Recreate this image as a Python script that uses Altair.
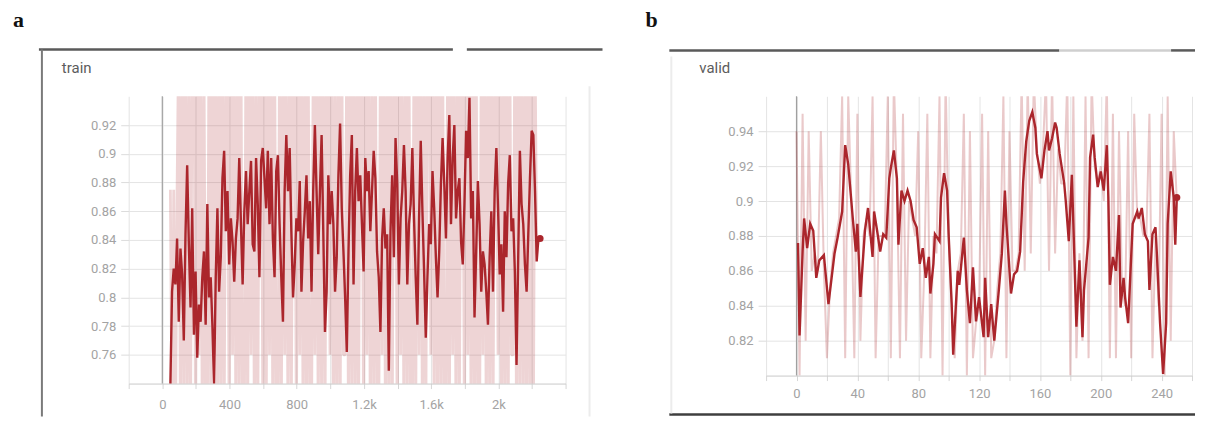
import altair as alt
import pandas as pd

# ---------------- data ----------------
# panel a: "train" -- one reading every 10 steps starting at step 48
train_start = 48
train_stride = 10
train_smoothed = [
    0.739, 0.804, 0.820, 0.809, 0.841, 0.783, 0.834, 0.816, 0.770, 0.844,
    0.892, 0.837, 0.793, 0.862, 0.774, 0.818, 0.758, 0.795, 0.783, 0.814,
    0.832, 0.781, 0.865, 0.800, 0.814, 0.781, 0.739, 0.814, 0.862, 0.804,
    0.828, 0.883, 0.902, 0.846, 0.874, 0.823, 0.855, 0.839, 0.811, 0.841,
    0.855, 0.897, 0.851, 0.809, 0.860, 0.888, 0.851, 0.874, 0.895, 0.837,
    0.832, 0.897, 0.865, 0.814, 0.895, 0.904, 0.883, 0.862, 0.902, 0.851,
    0.897, 0.841, 0.814, 0.888, 0.899, 0.851, 0.814, 0.783, 0.874, 0.913,
    0.874, 0.904, 0.846, 0.800, 0.823, 0.855, 0.846, 0.881, 0.804, 0.839,
    0.860, 0.885, 0.841, 0.867, 0.804, 0.874, 0.920, 0.874, 0.830, 0.874,
    0.913, 0.846, 0.776, 0.804, 0.885, 0.851, 0.874, 0.851, 0.804, 0.828,
    0.885, 0.921, 0.862, 0.832, 0.800, 0.762, 0.832, 0.885, 0.913,
    0.809, 0.874, 0.904, 0.867, 0.885, 0.851, 0.818, 0.897, 0.874, 0.888,
    0.846, 0.874, 0.902, 0.883, 0.832, 0.814, 0.776, 0.841, 0.862, 0.834,
    0.844, 0.749, 0.846, 0.885, 0.828, 0.911, 0.879, 0.809, 0.855, 0.874,
    0.906, 0.874, 0.809, 0.851, 0.865, 0.904, 0.855, 0.814, 0.781, 0.855,
    0.909, 0.860, 0.818, 0.772, 0.814, 0.851, 0.837, 0.888, 0.862, 0.828,
    0.800, 0.832, 0.879, 0.911, 0.879, 0.841, 0.897, 0.927, 0.851, 0.897,
    0.920, 0.855, 0.874, 0.883, 0.839, 0.823, 0.865, 0.916, 0.897, 0.939,
    0.855, 0.874, 0.786, 0.832, 0.881, 0.851, 0.804, 0.832, 0.823, 0.804,
    0.781, 0.828, 0.860, 0.804, 0.874, 0.904, 0.862, 0.816, 0.837, 0.790,
    0.860, 0.828, 0.879, 0.899, 0.846, 0.855, 0.818, 0.753, 0.828, 0.902,
    0.865, 0.851, 0.823, 0.804, 0.844, 0.883, 0.916, 0.913, 0.874, 0.825,
    0.841, 0.841,
]
train_raw = [
    0.875, 0.70, 0.875, 0.70, 0.875, 0.99, 0.70, 0.98, 0.72, 0.99,
    0.70, 0.97, 0.71, 0.99, 0.99, 0.70, 0.98, 0.76, 0.99, 0.70,
    0.97, 0.70, 0.70, 0.99, 0.72, 0.98, 0.76, 0.99, 0.70, 0.98,
    0.71, 0.99, 0.70, 0.97, 0.97, 0.70, 0.99, 0.76, 0.98, 0.70,
    0.99, 0.72, 0.98, 0.70, 0.70, 0.99, 0.71, 0.98, 0.76, 0.99,
    0.70, 0.97, 0.70, 0.99, 0.99, 0.72, 0.98, 0.70, 0.99, 0.76,
    0.98, 0.70, 0.99, 0.71, 0.71, 0.98, 0.70, 0.99, 0.76, 0.97,
    0.70, 0.99, 0.72, 0.98, 0.98, 0.70, 0.99, 0.76, 0.99, 0.70,
    0.98, 0.71, 0.99, 0.70, 0.70, 0.97, 0.76, 0.99, 0.70, 0.98,
    0.72, 0.99, 0.70, 0.98, 0.98, 0.76, 0.99, 0.70, 0.97, 0.71,
    0.99, 0.70, 0.98, 0.76, 0.76, 0.99, 0.70, 0.98, 0.72, 0.99,
    0.70, 0.98, 0.71, 0.99, 0.99, 0.70, 0.98, 0.76, 0.99, 0.70,
    0.97, 0.72, 0.99, 0.70, 0.70, 0.98, 0.76, 0.99, 0.70, 0.98,
    0.71, 0.99, 0.70, 0.98, 0.98, 0.70, 0.99, 0.76, 0.97, 0.70,
    0.99, 0.72, 0.98, 0.70, 0.70, 0.99, 0.71, 0.98, 0.76, 0.99,
    0.70, 0.98, 0.70, 0.99, 0.99, 0.76, 0.98, 0.70, 0.99, 0.72,
    0.98, 0.70, 0.99, 0.71, 0.71, 0.98, 0.70, 0.99, 0.76, 0.97,
    0.70, 0.99, 0.72, 0.98, 0.98, 0.70, 0.99, 0.76, 0.98, 0.70,
    0.99, 0.71, 0.98, 0.70, 0.70, 0.97, 0.76, 0.99, 0.70, 0.98,
    0.72, 0.99, 0.70, 0.98, 0.98, 0.76, 0.99, 0.70, 0.98, 0.71,
    0.99, 0.70, 0.98, 0.76, 0.76, 0.99, 0.70, 0.98, 0.72, 0.99,
    0.70, 0.98, 0.71, 0.99, 0.70, 0.99, 0.70, 0.98, 0.83, 0.84,
    0.84,
]

# panel b: "valid"
valid_steps = [
    1, 2, 4, 5, 7, 9, 11, 13, 15, 18,
    21, 25, 27, 30, 32, 34, 37, 39, 40, 42,
    43, 45, 47, 50, 51, 53, 55, 57, 59, 61,
    62, 64, 66, 67, 69, 71, 73, 75, 77, 79,
    81, 83, 85, 87, 88, 90, 91, 94, 95, 97,
    99, 100, 102, 103, 106, 107, 110, 112, 114, 116,
    118, 120, 123, 124, 126, 128, 130, 133, 135, 137,
    138, 141, 143, 145, 147, 149, 151, 153, 155, 157,
    158, 161, 163, 165, 166, 168, 170, 171, 173, 176,
    177, 179, 181, 182, 184, 186, 188, 189, 192, 193,
    195, 196, 198, 200, 202, 204, 205, 206, 208, 210,
    212, 213, 215, 216, 218, 220, 221, 224, 225, 227,
    229, 231, 232, 234, 236, 237, 239, 241, 243, 244,
    246, 248, 249, 250,
]
valid_smoothed = [
    0.876, 0.823, 0.871, 0.890, 0.873, 0.887, 0.883, 0.856, 0.866, 0.869,
    0.841, 0.870, 0.879, 0.894, 0.932, 0.921, 0.890, 0.871, 0.887, 0.845,
    0.858, 0.883, 0.896, 0.868, 0.894, 0.883, 0.871, 0.881, 0.879, 0.913,
    0.919, 0.929, 0.913, 0.875, 0.906, 0.900, 0.906, 0.900, 0.889, 0.885,
    0.864, 0.873, 0.856, 0.868, 0.847, 0.864, 0.881, 0.877, 0.902, 0.916,
    0.906, 0.881, 0.841, 0.812, 0.860, 0.852, 0.879, 0.849, 0.830, 0.862,
    0.831, 0.845, 0.822, 0.856, 0.822, 0.841, 0.820, 0.849, 0.870, 0.906,
    0.887, 0.847, 0.858, 0.860, 0.871, 0.911, 0.934, 0.946, 0.951, 0.942,
    0.927, 0.913, 0.929, 0.940, 0.929, 0.936, 0.945, 0.942, 0.927, 0.910,
    0.900, 0.877, 0.915, 0.887, 0.828, 0.866, 0.822, 0.849, 0.879, 0.925,
    0.938, 0.925, 0.908, 0.917, 0.906, 0.932, 0.902, 0.852, 0.868, 0.860,
    0.892, 0.839, 0.856, 0.845, 0.830, 0.868, 0.887, 0.894, 0.890, 0.896,
    0.881, 0.877, 0.849, 0.881, 0.885, 0.868, 0.830, 0.801, 0.830, 0.887,
    0.917, 0.902, 0.875, 0.902,
]
valid_raw_start = 0
valid_raw_stride = 2
valid_raw = [
    0.94, 0.80, 0.95, 0.82, 0.94, 0.86, 0.87, 0.86, 0.94, 0.86,
    0.81, 0.85, 0.87, 0.88, 0.89, 0.96, 0.81, 0.96, 0.90, 0.81,
    0.95, 0.82, 0.88, 0.89, 0.88, 0.96, 0.81, 0.88, 0.88, 0.88,
    0.96, 0.81, 0.97, 0.91, 0.81, 0.95, 0.82, 0.90, 0.89, 0.88,
    0.94, 0.81, 0.86, 0.95, 0.81, 0.88, 0.87, 0.96, 0.80, 0.97,
    0.88, 0.84, 0.81, 0.86, 0.87, 0.95, 0.80, 0.94, 0.81, 0.83,
    0.84, 0.95, 0.80, 0.94, 0.81, 0.82, 0.85, 0.87, 0.96, 0.81,
    0.94, 0.86, 0.86, 0.87, 0.97, 0.86, 0.97, 0.87, 0.97, 0.93,
    0.91, 0.93, 0.97, 0.86, 0.97, 0.87, 0.93, 0.91, 0.91, 0.97,
    0.80, 0.96, 0.81, 0.87, 0.82, 0.96, 0.81, 0.97, 0.92, 0.91,
    0.92, 0.90, 0.97, 0.81, 0.95, 0.81, 0.94, 0.85, 0.84, 0.94,
    0.81, 0.95, 0.89, 0.89, 0.88, 0.88, 0.95, 0.81, 0.88, 0.84,
    0.95, 0.80, 0.96, 0.82, 0.94, 0.90,
]

# axes
train_x_grid = [-200, 0, 200, 400, 600, 800, 1000, 1200, 1400, 1600, 1800, 2000, 2200, 2400]
train_y_ticks = [0.76, 0.78, 0.8, 0.82, 0.84, 0.86, 0.88, 0.9, 0.92]
valid_x_grid = [-20, 0, 20, 40, 60, 80, 100, 120, 140, 160, 180, 200, 220, 240, 260]
valid_y_ticks = [0.82, 0.84, 0.86, 0.88, 0.9, 0.92, 0.94]

# ---------------- styling ----------------
RED = "#ab262c"
FONT = "Roboto"
LABEL_COLOR = "#a3a3a3"
GRID_COLOR = "#e4e4e4"


def x_axis(values, label_expr, pad):
    return alt.Axis(values=values, labelExpr=label_expr, title=None, grid=True,
                    gridColor=GRID_COLOR, domainColor="#c9c9c9", tickColor="#d6d6d6",
                    tickSize=5, labelPadding=pad, labelFont=FONT, labelFontSize=13,
                    labelColor=LABEL_COLOR, labelOverlap=False, labelFlush=False)


def y_axis(values):
    return alt.Axis(values=values, format="~g", title=None, grid=True, gridColor=GRID_COLOR,
                    domain=False, tickColor="#dcdcdc", tickSize=8, labelPadding=5,
                    labelFont=FONT, labelFontSize=13, labelColor=LABEL_COLOR,
                    labelOverlap=False, labelFlush=False)


def one(v):
    return pd.DataFrame({"k": [v]})


def hrule(x1, x2, y, color, sw):
    return alt.Chart(one(0)).mark_rule(color=color, strokeWidth=sw).encode(
        x=alt.value(x1), x2=alt.value(x2), y=alt.value(y))


def vrule(x, y1, y2, color, sw):
    return alt.Chart(one(0)).mark_rule(color=color, strokeWidth=sw).encode(
        x=alt.value(x), y=alt.value(y1), y2=alt.value(y2))


def label(text, x, y, font, size, weight, color):
    return alt.Chart(one(text)).mark_text(
        align="left", baseline="alphabetic", font=font, fontSize=size,
        fontWeight=weight, color=color).encode(
        x=alt.value(x), y=alt.value(y), text="k:N")


def panel(smooth_df, raw_df, xdom, ydom, xgrid, yticks, label_expr, xpad,
          raw_opacity, raw_width):
    xs = alt.Scale(domain=xdom, nice=False, zero=False)
    ys = alt.Scale(domain=ydom, nice=False, zero=False)
    xe = alt.X("step:Q", scale=xs, axis=x_axis(xgrid, label_expr, xpad))
    ye = alt.Y("acc:Q", scale=ys, axis=y_axis(yticks))
    zero = alt.Chart(pd.DataFrame({"step": [0]})).mark_rule(
        color="#a0a0a0", strokeWidth=1.2).encode(x=xe)
    raw = alt.Chart(raw_df).mark_line(
        color=RED, opacity=raw_opacity, strokeWidth=raw_width, clip=True,
        strokeJoin="bevel").encode(x=xe, y=ye)
    smooth = alt.Chart(smooth_df).mark_line(
        color=RED, strokeWidth=2.4, clip=True).encode(x=xe, y=ye)
    end = alt.Chart(smooth_df.tail(1)).mark_circle(
        color=RED, size=50, opacity=1).encode(x=xe, y=ye)
    return [zero, raw, smooth, end]


train_df = pd.DataFrame({
    "step": [train_start + train_stride * i for i in range(len(train_smoothed))],
    "acc": train_smoothed,
})
train_raw_df = pd.DataFrame({
    "step": [train_start + train_stride * i for i in range(len(train_raw))],
    "acc": train_raw,
})
valid_df = pd.DataFrame({"step": valid_steps, "acc": valid_smoothed})
valid_raw_df = pd.DataFrame({
    "step": [valid_raw_start + valid_raw_stride * i for i in range(len(valid_raw))],
    "acc": valid_raw,
})

lab_a = ("datum.value >= 0 && datum.value <= 2000 && datum.value % 400 == 0 ? "
         "(datum.value >= 1000 ? format(datum.value / 1000, '~g') + 'k' : format(datum.value, 'd')) : ''")
lab_b = ("datum.value >= 0 && datum.value <= 240 && datum.value % 40 == 0 ? "
         "format(datum.value, 'd') : ''")

# plot origin of panel a = page (128, 95)
deco_a = [
    hrule(-120, -110, -87, "#ffffff", 0.5),              # layout anchor (invisible)
    hrule(-90, 325, -47, "#5a5a5a", 2.5),
    hrule(339, 475, -47, "#5a5a5a", 2.5),
    vrule(-87, -47, 321, "#7a7a7a", 2),
    vrule(462, -10, 321, "#ececec", 2),
    label("a", -116, -69, "Liberation Serif", 22, "bold", "#111111"),
    label("train", -67, -23, FONT, 15, "normal", "#5c5c5c"),
]
chart_a = alt.layer(
    *panel(train_df, train_raw_df, [-200, 2400], [0.74, 0.94], train_x_grid,
           train_y_ticks, lab_a, 10, 0.2, 2.8),
    *deco_a,
).properties(width=438, height=288)

# plot origin of panel b = page (765, 95)
deco_b = [
    hrule(-127, -117, -87, "#ffffff", 0.5),              # layout anchor (invisible)
    hrule(-97, 294, -46, "#5a5a5a", 2.5),
    hrule(294, 406, -46, "#cfcfcf", 2.5),
    hrule(406, 430, -46, "#5a5a5a", 2.5),
    hrule(-97, 430, 319, "#3f3f3f", 2.5),
    vrule(-95, -40, 318, "#ececec", 2),
    label("b", -121, -69, "Liberation Serif", 22, "bold", "#111111"),
    label("valid", -67, -23, FONT, 15, "normal", "#5c5c5c"),
]
chart_b = alt.layer(
    *panel(valid_df, valid_raw_df, [-20, 260], [0.80, 0.96], valid_x_grid,
           valid_y_ticks, lab_b, 7, 0.25, 2.0),
    *deco_b,
).properties(width=427, height=280)

chart = alt.hconcat(chart_a, chart_b, spacing=34).properties(
    padding={"left": 0, "top": 0, "right": 0, "bottom": 0}
).configure_view(stroke=None)

chart.save("out.html", embed_options={"renderer": "svg", "actions": False})
